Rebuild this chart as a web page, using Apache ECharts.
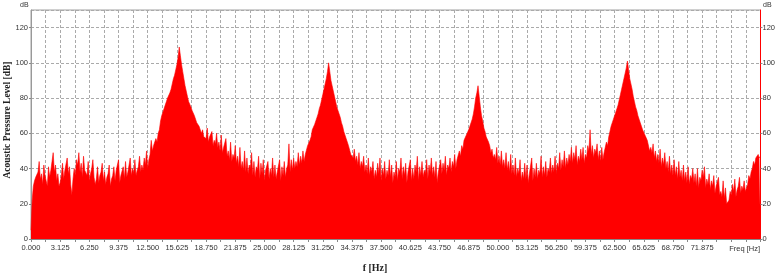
<!DOCTYPE html>
<html>
<head>
<meta charset="utf-8">
<script src="https://cdn.jsdelivr.net/npm/echarts@6/dist/echarts.min.js"></script>
<style>
html,body{margin:0;padding:0;background:#fff;}
#c{width:778px;height:273px;}
</style>
</head>
<body>
<div id="c"></div>
<script>
// Frequency bins: first bin and bin width (Hz)
const freqStart = 0;
const freqStep = 0.125;
// Acoustic pressure level (dB), one value per bin (8 bins per Hz, one row per Hz)
const levels = [
  5,22,30,33,35,36,38,44,   34,37,31,42,36,35,30,41,   35,39,44,49,38,42,33,37,   30,32,36,43,34,39,40,46,
  37,41,31,25,34,40,36,45,  42,49,38,43,35,47,39,40,   36,44,33,37,40,45,35,31,   34,41,32,36,38,43,33,38,
  31,35,37,42,30,34,36,41,  33,39,38,45,32,36,35,41,   34,44,35,38,39,46,36,40,   37,45,36,39,41,47,38,42,
  39,46,42,50,40,45,48,56,  50,53,52,57,55,60,62,67,   70,72,74,76,78,80,81,83,   85,88,91,93,96,99,103,109,
  104,99,95,91,87,84,81,78, 77,75,73,72,70,69,66,67,   64,64,60,62,58,59,57,63,   55,58,57,61,53,56,54,60,
  52,55,50,59,49,52,51,57,  47,50,45,55,44,48,46,53,   43,47,41,52,40,44,39,50,   38,46,37,42,40,49,36,44,
  35,41,39,47,34,43,37,45,  33,39,38,44,34,40,36,46,   35,42,34,38,37,45,33,41,   36,44,35,40,42,54,38,45,
  39,46,40,44,41,49,42,47,  43,50,44,48,47,53,52,56,   58,62,63,65,67,69,71,74,   76,79,82,85,88,91,95,100,
  95,90,87,84,81,78,75,73,  71,69,66,64,61,59,57,55,   53,52,48,49,46,51,44,47,   42,49,40,44,41,47,38,42,
  37,46,36,41,38,44,34,39,  35,43,37,46,33,40,36,44,   34,39,36,45,35,42,32,38,   35,44,33,40,38,46,34,41,
  36,43,32,38,37,45,33,40,  34,42,38,47,33,41,36,44,   35,39,37,45,34,42,38,46,   36,41,35,44,32,38,37,45,
  37,43,39,47,36,42,40,46,  38,44,41,48,40,45,44,50,   47,53,51,56,55,59,58,62,   64,66,68,71,75,80,83,87,
  81,75,70,67,63,61,58,57,  55,53,49,51,46,48,45,52,   43,47,42,50,41,45,40,49,   39,44,38,48,37,42,36,46,
  35,40,37,45,33,38,34,43,  34,42,32,37,36,46,33,40,   35,43,34,39,37,47,35,41,   36,44,35,40,38,46,37,42,
  38,47,37,43,40,49,39,45,  41,50,40,46,42,48,44,52,   43,49,45,53,42,47,44,51,   45,52,43,48,46,53,50,62,
  48,53,46,51,49,54,45,50,  44,52,45,49,50,55,53,58,   61,64,66,68,70,72,74,76,   79,82,85,88,91,94,97,101,
  96,91,88,85,81,78,75,73,  70,68,66,64,62,61,59,58,   56,55,50,52,49,54,46,50,   44,48,43,51,41,46,42,49,
  40,44,38,47,37,42,36,45,  36,41,34,44,35,39,33,42,   33,38,32,41,31,36,34,40,   32,37,30,40,29,35,33,39,
  35,41,29,34,31,37,28,33,  30,36,26,30,29,35,25,27,   24,33,23,29,20,19,22,27,   25,31,27,34,24,28,30,35,
  26,30,28,33,27,29,31,36,  34,38,40,44,42,46,45,48,   46,47
];
// Axis ticks
const xMax = 78.125;
const xTickStep = 3.125;
const yMax = 130;
const yTickStep = 20;

const data = levels.map((v, i) => [freqStart + i * freqStep, v]);

const chart = echarts.init(document.getElementById('c'), null, {renderer: 'canvas'});
const labelFont = {fontFamily: 'Liberation Sans', fontSize: 7.5, color: '#333'};
const gridLine = {show: true, lineStyle: {color: '#aaaaaa', type: [3, 2], width: 1}};

chart.setOption({
  animation: false,
  backgroundColor: '#fff',
  grid: {left: 31, right: 17, top: 10, bottom: 34, show: true, borderColor: '#a0a0a0', borderWidth: 1, backgroundColor: 'transparent'},
  xAxis: {
    type: 'value', min: 0, max: xMax, interval: xTickStep,
    axisLine: {show: true, onZero: false, lineStyle: {color: '#888'}},
    axisTick: {show: true, length: 3, lineStyle: {color: '#888'}},
    minorTick: {show: true, splitNumber: 2, length: 3, lineStyle: {color: '#888'}},
    splitLine: gridLine,
    minorSplitLine: gridLine,
    axisLabel: Object.assign({}, labelFont, {margin: 5, showMaxLabel: false,
      formatter: v => v > 72 ? '' : v.toFixed(3)})
  },
  yAxis: [{
    type: 'value', min: 0, max: yMax, interval: yTickStep, position: 'left',
    axisLine: {show: true, lineStyle: {color: '#999', width: 1}},
    axisTick: {show: true, length: 2, lineStyle: {color: '#888'}},
    splitLine: gridLine,
    axisLabel: Object.assign({}, labelFont, {margin: 3, showMaxLabel: false})
  }, {
    type: 'value', min: 0, max: yMax, interval: yTickStep, position: 'right',
    axisLine: {show: true, lineStyle: {color: '#ff0000', width: 1}},
    axisTick: {show: true, length: 2, lineStyle: {color: '#888'}},
    splitLine: {show: false},
    axisLabel: Object.assign({}, labelFont, {margin: 2, showMaxLabel: false})
  }],
  series: [{
    type: 'line',
    data: data,
    symbol: 'none',
    sampling: null,
    lineStyle: {color: '#ff0000', width: 0.6},
    areaStyle: {color: '#ff0000', opacity: 1},
    z: 1
  }],
  graphic: [
    {type: 'text', left: 20, top: 2, style: {text: 'dB', font: '7px "Liberation Sans"', fill: '#333'}},
    {type: 'text', left: 763, top: 2, style: {text: 'dB', font: '7px "Liberation Sans"', fill: '#333'}},
    {type: 'text', right: 18, top: 245, style: {text: 'Freq [Hz]', font: '7.5px "Liberation Sans"', fill: '#333'}},
    {type: 'text', x: 375, y: 268, style: {text: 'f [Hz]', font: 'bold 10px "Liberation Serif"', fill: '#222', textAlign: 'center', textVerticalAlign: 'middle'}},
    {type: 'text', x: 8, y: 120, rotation: Math.PI / 2, style: {text: 'Acoustic Pressure Level [dB]', font: 'bold 9.5px "Liberation Serif"', fill: '#222', textAlign: 'center', textVerticalAlign: 'middle'}}
  ]
});
</script>
</body>
</html>
